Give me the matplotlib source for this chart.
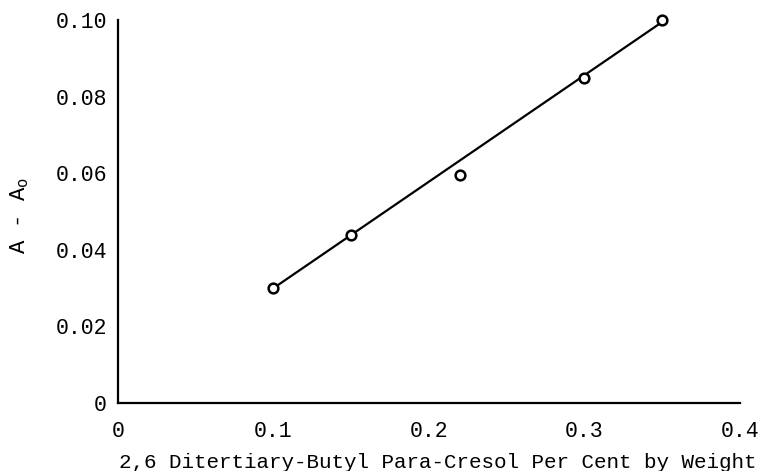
import matplotlib.pyplot as plt

plt.rcParams['font.family'] = ['Liberation Mono', 'DejaVu Sans Mono']

# 측정값
conc = [0.10, 0.15, 0.22, 0.30, 0.35]
absorb = [0.030, 0.044, 0.0595, 0.085, 0.100]

# 그려진 직선 (양 끝점)
line_x = [0.10, 0.35]
line_y = [0.0300, 0.0995]

xticks = [0, 0.1, 0.2, 0.3, 0.4]
xticklabels = ['0', '0.1', '0.2', '0.3', '0.4']
yticks = [0, 0.02, 0.04, 0.06, 0.08, 0.10]
yticklabels = ['0', '0.02', '0.04', '0.06', '0.08', '0.10']

figure = plt.figure(figsize=(7.63, 4.71), dpi=100)
axes = figure.add_axes([0.1547, 0.1444, 0.815, 0.813])

axes.plot(line_x, line_y, color='black', linewidth=1.6, clip_on=False)
axes.plot(conc, absorb, linestyle='none', marker='o', markersize=7,
          markerfacecolor='white', markeredgecolor='black', markeredgewidth=1.8,
          clip_on=False)

axes.set_xlim(0, 0.4)
axes.set_ylim(0, 0.10)
axes.set_xticks(xticks)
axes.set_xticklabels(xticklabels)
axes.set_yticks(yticks)
axes.set_yticklabels(yticklabels)
axes.tick_params(length=0, labelsize=15.5)
axes.tick_params(axis='x', pad=13)
axes.tick_params(axis='y', pad=8)

for side in ['top', 'right']:
    axes.spines[side].set_visible(False)
for side in ['left', 'bottom']:
    axes.spines[side].set_linewidth(1.6)

axes.set_xlabel('2,6 Ditertiary-Butyl Para-Cresol Per Cent by Weight', fontsize=15)
axes.xaxis.set_label_coords(0.514, -0.13)
axes.set_ylabel('A - A$_\\mathregular{o}$', fontsize=16)
axes.yaxis.set_label_coords(-0.14, 0.49)

figure.savefig('out.png', dpi=100)
